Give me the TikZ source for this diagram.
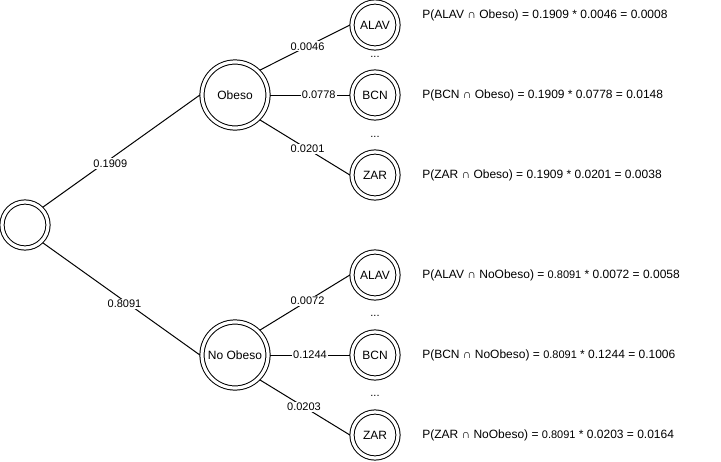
\documentclass[tikz,border=0pt]{standalone}
\usepackage{fontspec}
\setmainfont{Liberation Sans}
\begin{document}
\begin{tikzpicture}[x=0.75pt,y=-0.75pt,
 dc/.style={circle,draw,double,line width=0.75pt,double distance=2.4pt,inner sep=0pt,outer sep=1.6pt,font=\fontsize{9}{10}\selectfont},
 bignode/.style={dc,minimum size=49.5pt},
 smallnode/.style={dc,minimum size=34.5pt},
 lbl/.style={fill=white,inner sep=1pt,font=\fontsize{8.25}{9}\selectfont},
 edgeline/.style={line width=0.75pt},
 formula/.style={anchor=west,inner sep=0pt,font=\fontsize{9}{10}\selectfont},
 dotsnode/.style={inner sep=0pt,font=\fontsize{8.25}{9}\selectfont}]
\useasboundingbox (0,0) rectangle (721,461);
\fill[white] (0,0) rectangle (721,461);
% nodes
\node[smallnode] (root) at (25,225) {};
\node[bignode] (ob) at (235,95) {Obeso};
\node[bignode] (nob) at (235,355) {No Obeso};
\node[smallnode] (a1) at (375,25) {ALAV};
\node[smallnode] (b1) at (375,95) {BCN};
\node[smallnode] (z1) at (375,175) {ZAR};
\node[smallnode] (a2) at (375,275) {ALAV};
\node[smallnode] (b2) at (375,355) {BCN};
\node[smallnode] (z2) at (375,435) {ZAR};
\node[dotsnode] (d1) at (375,57) {...};
\node[dotsnode] (d2) at (375,137) {...};
\node[dotsnode] (d3) at (375,316) {...};
\node[dotsnode] (d4) at (375,396) {...};
% edges
\draw[edgeline] (root.45) -- node[lbl,pos=.43,yshift=-3.5pt]{0.1909} (ob.west);
\draw[edgeline] (root.-45) -- node[lbl,pos=.52,yshift=-2pt]{0.8091} (nob.west);
\draw[edgeline] (ob.45) -- node[lbl,pos=.53]{0.0046} (a1.west);
\draw[edgeline] (ob.east) -- node[lbl,pos=.61]{0.0778} (b1.west);
\draw[edgeline] (ob.-45) -- node[lbl,pos=.53]{0.0201} (z1.west);
\draw[edgeline] (nob.45) -- node[lbl,pos=.53]{0.0072} (a2.west);
\draw[edgeline] (nob.east) -- node[lbl,pos=.5]{0.1244} (b2.west);
\draw[edgeline] (nob.-45) -- node[lbl,pos=.49]{0.0203} (z2.west);
% formulas
\node[formula] (f1) at (422,15) {P(ALAV ∩ Obeso) = 0.1909 * 0.0046 = 0.0008};
\node[formula] (f2) at (422,95) {P(BCN ∩ Obeso) = 0.1909 * 0.0778 = 0.0148};
\node[formula] (f3) at (422,175) {P(ZAR ∩ Obeso) = 0.1909 * 0.0201 = 0.0038};
\node[formula] (f4) at (422,275) {P(ALAV ∩ NoObeso) = {\fontsize{8.25}{9}\selectfont 0.8091} * 0.0072 = 0.0058};
\node[formula] (f5) at (422,355) {P(BCN ∩ NoObeso) = {\fontsize{8.25}{9}\selectfont 0.8091} * 0.1244 = 0.1006};
\node[formula] (f6) at (422,435) {P(ZAR ∩ NoObeso) = {\fontsize{8.25}{9}\selectfont 0.8091} * 0.0203 = 0.0164};
\end{tikzpicture}
\end{document}
